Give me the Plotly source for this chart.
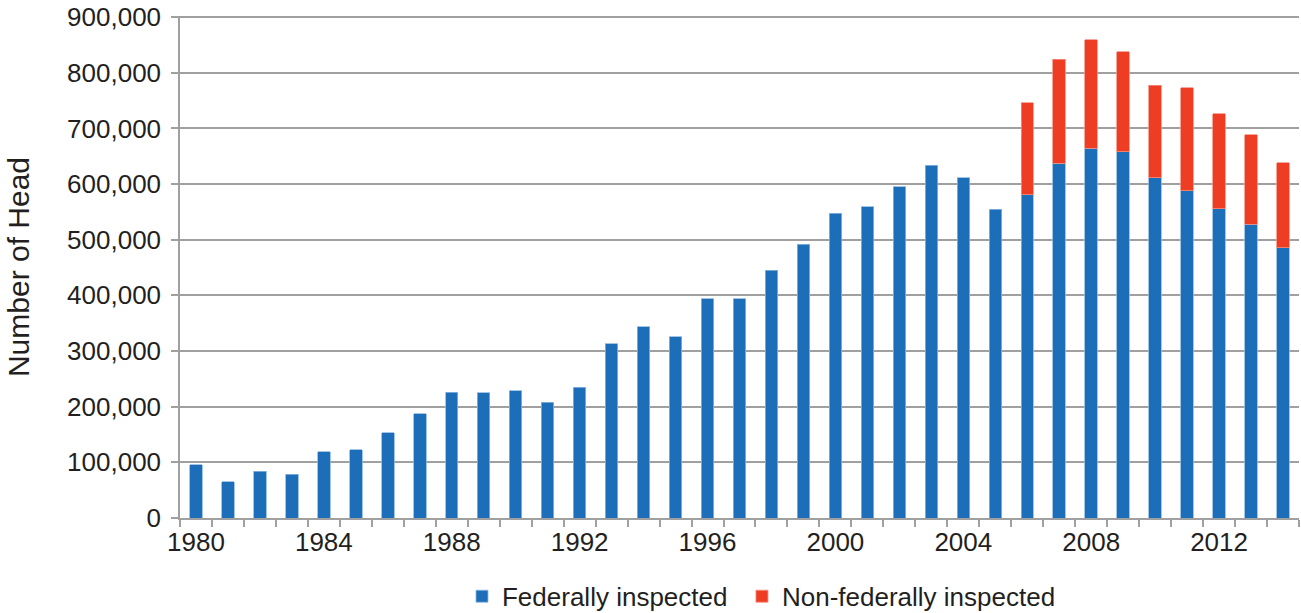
import plotly.graph_objects as go

years = list(range(1980, 2015))
federally_inspected = [
    96000, 65000, 84000, 79000, 119000, 123000, 153000, 187000, 226000, 225000,
    229000, 208000, 235000, 313000, 344000, 326000, 394000, 394000, 445000, 492000,
    548000, 559000, 595000, 634000, 611000, 555000, 581000, 637000, 664000, 658000,
    611000, 588000, 556000, 528000, 486000,
]
non_federally_inspected = [None] * 26 + [
    165000, 187000, 195000, 180000, 167000, 185000, 170000, 161000, 152000,
]
x_tick_years = [1980, 1984, 1988, 1992, 1996, 2000, 2004, 2008, 2012]

BLUE = "#1B6EB7"
RED = "#EE3D23"
GRID = "#A0A0A0"
TEXT = "#231F20"
FONT = "Liberation Sans, Arial, Helvetica, sans-serif"

fig = go.Figure()
fig.add_trace(go.Bar(
    x=years, y=federally_inspected, name="Federally inspected",
    marker=dict(color=BLUE, line=dict(color="#8DB8E0", width=0.8)),
    width=0.39, legend="legend",
))
fig.add_trace(go.Bar(
    x=years, y=non_federally_inspected, name="Non-federally inspected",
    marker=dict(color=RED, line=dict(color="#F5907F", width=0.8)),
    width=0.39, legend="legend2",
))

legend_common = dict(
    orientation="h", xanchor="left", y=-0.156, yanchor="middle",
    font=dict(size=26, color=TEXT), itemwidth=30,
    bgcolor="rgba(0,0,0,0)",
)

fig.update_layout(
    barmode="stack",
    width=1301, height=613,
    margin=dict(l=180, r=2, t=16, b=95, autoexpand=False),
    paper_bgcolor="white", plot_bgcolor="white",
    font=dict(family=FONT, size=26, color=TEXT),
    showlegend=True,
    legend=dict(x=0.252, **legend_common),
    legend2=dict(x=0.5022, **legend_common),
    xaxis=dict(
        range=[1979.5, 2014.5], automargin=False,
        tickmode="array", tickvals=x_tick_years,
        ticktext=[str(y) for y in x_tick_years],
        ticks="", showgrid=False, zeroline=False,
        showline=True, linecolor=GRID, linewidth=2,
        tickfont=dict(size=26, color=TEXT),
        minor=dict(ticks="outside", tick0=1979.5, dtick=1, ticklen=7,
                   tickcolor=GRID, tickwidth=1.5, showgrid=False),
    ),
    yaxis=dict(
        range=[0, 902000], automargin=False,
        tickmode="linear", tick0=0, dtick=100000,
        tickformat=",d", ticklabeloverflow="allow",
        showgrid=True, gridcolor=GRID, gridwidth=2,
        zeroline=False,
        showline=True, linecolor=GRID, linewidth=1.5,
        ticks="outside", ticklen=7, tickcolor=GRID, tickwidth=1.5,
        ticklabelstandoff=5,
        tickfont=dict(size=26, color=TEXT),
        title=dict(text="Number of Head", font=dict(size=30, color=TEXT), standoff=29),
    ),
)

fig.write_html(
    "out.html",
    config={"displayModeBar": False},
    post_script="document.body.style.margin='0';document.body.style.overflow='hidden';",
)
